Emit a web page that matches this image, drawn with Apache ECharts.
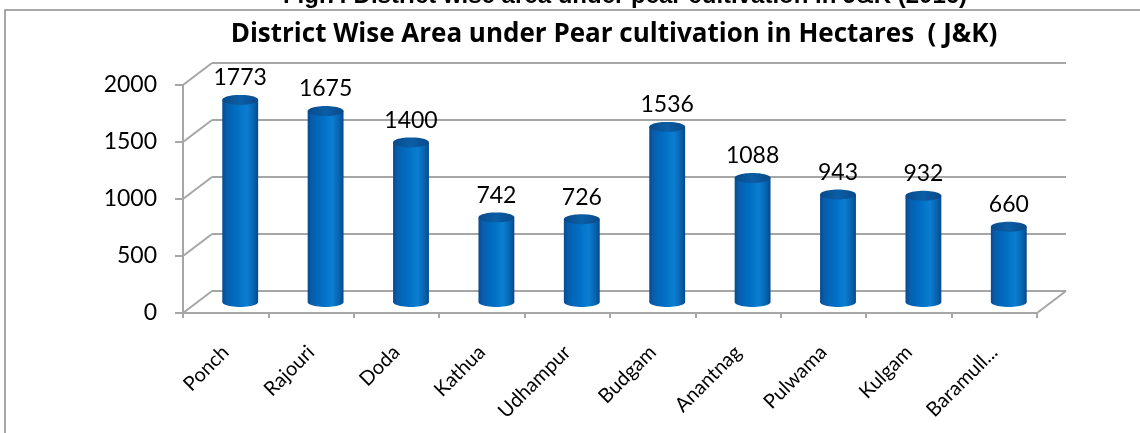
<!DOCTYPE html>
<html><head><meta charset="utf-8">
<script src="https://cdn.jsdelivr.net/npm/echarts@6/dist/echarts.min.js"></script>
<style>html,body{margin:0;padding:0;background:#fff}#c{width:1140px;height:433px}</style>
</head><body><div id="c"></div>
<script>
const categories = ['Ponch','Rajouri','Doda','Kathua','Udhampur','Budgam','Anantnag','Pulwama','Kulgam','Baramull...'];
const areaValues = [1773,1675,1400,742,726,1536,1088,943,932,660];
const yTicks = [0,500,1000,1500,2000];
const titleText = 'District Wise Area under Pear cultivation in Hectares  ( J&K)';
const captionText = 'Fig.7: District wise area under pear cultivation in J&K (2016)';

const DX = 29, DY = -22;
const GRID_COLOR = '#a6a6a6';
const FONT = 'Lato, "Open Sans", sans-serif';

const chart = echarts.init(document.getElementById('c'), null, {renderer:'canvas'});

function renderWall(params, api){
  const v = api.value(1);
  const p = api.coord([0, v]);
  const bw = api.size([1,0])[0];
  const x0 = p[0] - bw/2;
  const children = [{
    type:'line', shape:{x1:x0, y1:p[1], x2:x0+DX, y2:p[1]+DY},
    style:{stroke:GRID_COLOR, lineWidth:2}
  }];
  if (v === 0) {
    const q = api.coord([categories.length-1, 0]);
    const x1 = q[0] + bw/2;
    children.push({type:'line', shape:{x1:x1, y1:q[1], x2:x1+DX, y2:q[1]+DY},
      style:{stroke:GRID_COLOR, lineWidth:2}});
  }
  return {type:'group', children};
}

function renderCylinder(params, api){
  const i = api.value(0), v = api.value(1);
  const top = api.coord([i, v]);
  const base = api.coord([i, 0]);
  const bw = api.size([1,0])[0];
  const rx = bw*0.21, ry = 5;
  const cx = top[0] + DX/2, ty = top[1] + DY/2, by = base[1] + DY/2;
  const N = 24;
  const body = [[cx-rx, ty]];
  for (let k=0;k<=N;k++){ const t = Math.PI - Math.PI*k/N; body.push([cx+rx*Math.cos(t), by+ry*Math.sin(t)]); }
  body.push([cx+rx, ty]);
  const topE = [];
  for (let k=0;k<2*N;k++){ const t = Math.PI*k/N; topE.push([cx+rx*Math.cos(t), ty+ry*Math.sin(t)]); }
  const bodyFill = new echarts.graphic.LinearGradient(0,0,1,0,[
    {offset:0, color:'#0a4a8c'},
    {offset:0.12, color:'#075eae'},
    {offset:0.4, color:'#006ec2'},
    {offset:0.68, color:'#0b7ed2'},
    {offset:0.88, color:'#0862ae'},
    {offset:1, color:'#08478a'}
  ]);
  const topFill = new echarts.graphic.LinearGradient(0,0,1,0,[
    {offset:0, color:'#094a8a'},
    {offset:0.5, color:'#0b5ea6'},
    {offset:1, color:'#094a8a'}
  ]);
  return {type:'group', children:[
    {type:'polygon', shape:{points:body}, style:{fill:bodyFill}},
    {type:'polygon', shape:{points:topE}, style:{fill:topFill}},
    {type:'text', style:{text:String(v), x:cx, y:ty-22, align:'center', verticalAlign:'middle',
      fontSize:23, fontFamily:FONT, fill:'#000'}}
  ]};
}

const option = {
  animation:false,
  backgroundColor:'#fff',
  grid:[
    {left:183, top:85, width:854, height:228, outerBoundsMode:'none'},
    {left:212, top:63, width:854, height:228, outerBoundsMode:'none'}
  ],
  xAxis:[
    {type:'category', gridIndex:0, data:categories,
     axisLine:{show:true, lineStyle:{color:GRID_COLOR, width:2}},
     axisTick:{show:true, length:5, interval:0, lineStyle:{color:GRID_COLOR, width:2}},
     axisLabel:{interval:0, rotate:45, margin:36, fontSize:20, fontFamily:FONT, color:'#000'},
     splitLine:{show:false}},
    {type:'category', gridIndex:1, data:categories, show:false}
  ],
  yAxis:[
    {type:'value', gridIndex:0, min:0, max:2000, interval:500,
     axisLine:{show:true, lineStyle:{color:GRID_COLOR, width:2}},
     axisTick:{show:true, length:8, lineStyle:{color:GRID_COLOR, width:2}},
     axisLabel:{margin:26, fontSize:23, fontFamily:FONT, color:'#000', formatter:(v)=>String(v)},
     splitLine:{show:false}},
    {type:'value', gridIndex:1, min:0, max:2000, interval:500,
     axisLine:{show:false}, axisTick:{show:false}, axisLabel:{show:false},
     splitLine:{show:true, lineStyle:{color:GRID_COLOR, width:2}}}
  ],
  graphic:[
    {type:'rect', shape:{x:5, y:10, width:1300, height:600}, style:{fill:'none', stroke:'#8a8a8a', lineWidth:1.5}, z:-1},
    {type:'text', x:625, y:8, style:{text:captionText, align:'center', verticalAlign:'bottom',
      font:'bold 24px "Liberation Sans", Arial, sans-serif', fill:'#000'}},
    {type:'text', x:614, y:35, style:{text:titleText, align:'center', verticalAlign:'middle',
      font:'bold 26px "Open Sans", sans-serif', fill:'#000'}}
  ],
  series:[
    {type:'custom', xAxisIndex:0, yAxisIndex:0, clip:false, z:1, silent:true,
     data:yTicks.map(v=>[0, v]), renderItem:renderWall},
    {type:'custom', xAxisIndex:0, yAxisIndex:0, clip:false, z:3, silent:true,
     data:areaValues.map((v,i)=>[i, v]), renderItem:renderCylinder}
  ]
};
chart.setOption(option);
</script></body></html>
